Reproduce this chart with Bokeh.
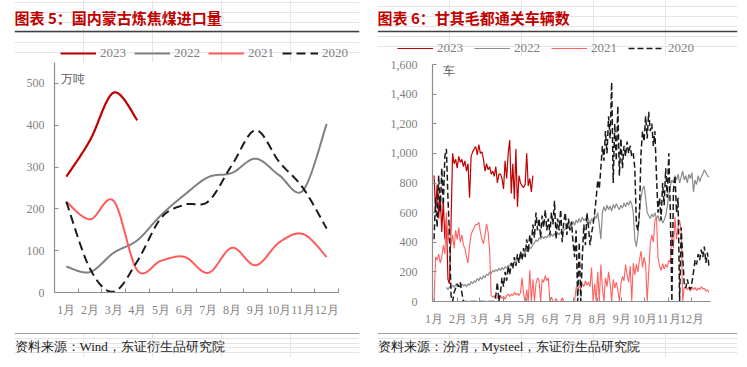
import numpy as np
from bokeh.plotting import figure
from bokeh.models import (Range1d, FixedTicker, SingleIntervalTicker, NumeralTickFormatter,
                          Legend, LegendItem, Label, Span)
from bokeh.layouts import row, column
from bokeh.embed import file_html
from bokeh.resources import INLINE

# ---------------- data: chart 5 (monthly imports, 万吨) ----------------
months = ["1月", "2月", "3月", "4月", "5月", "6月", "7月", "8月", "9月", "10月", "11月", "12月"]
import_2023 = [277, 364, 478, 412]
import_2022 = [62, 49, 95, 125, 185, 234, 276, 286, 320, 280, 244, 403]
import_2021 = [217, 175, 219, 53, 76, 85, 47, 107, 65, 120, 140, 85]
import_2020 = [217, 57, 2, 75, 178, 210, 218, 305, 388, 312, 250, 153]

# ---------------- data: chart 6 (daily trucks, every 2nd day) ----------------
month_start_day = [0, 31, 59, 90, 120, 151, 181, 212, 243, 273, 304, 334]
day_step = 2
start_2023 = 0
cars_2023 = [850, 620, 790, 560, 720, 470, 680, 420, 560, 150, 120, 520, 1000, 930, 960, 900,
             980, 940, 960, 910, 950, 880, 930, 700, 980, 1010, 1030, 1045, 990, 1060, 1000,
             1010, 960, 880, 930, 890, 910, 860, 880, 845, 910, 800, 860, 860, 830, 760, 950,
             830, 1000, 1090, 730, 930, 690, 1030, 640, 850, 800, 780, 770, 790, 1000, 780,
             830, 740, 850]
start_2022 = 16
cars_2022 = [95, 80, 100, 90, 110, 95, 115, 100, 110, 95, 120, 105, 115, 100, 120, 110, 135,
             120, 140, 130, 155, 140, 165, 150, 175, 160, 185, 175, 200, 185, 210, 200, 215,
             205, 225, 210, 230, 215, 235, 225, 245, 240, 260, 250, 270, 260, 280, 275, 300,
             290, 320, 330, 345, 340, 365, 360, 385, 395, 415, 405, 430, 420, 440, 425, 440,
             430, 450, 435, 455, 440, 460, 445, 465, 450, 470, 460, 480, 490, 510, 495, 520,
             500, 540, 515, 550, 530, 560, 535, 570, 545, 560, 530, 555, 520, 560, 540, 580,
             560, 600, 520, 420, 600, 640, 610, 650, 620, 645, 610, 655, 630, 660, 640, 620,
             650, 630, 665, 640, 670, 650, 680, 660, 600, 420, 370, 450, 600, 700, 760, 780,
             700, 600, 580, 560, 590, 570, 600, 560, 580, 540, 570, 530, 550, 580, 640, 720,
             780, 820, 800, 850, 820, 860, 800, 840, 880, 820, 850, 800, 860, 830, 870, 740,
             820, 790, 850, 810, 840, 860, 890, 870, 850, 840]
start_2021 = 0
cars_2021 = [0, 300, 280, 320, 260, 300, 380, 320, 600, 400, 520, 380, 450, 360, 480, 420,
             500, 400, 450, 380, 360, 300, 260, 380, 450, 480, 500, 520, 520, 535, 470, 420,
             390, 450, 525, 470, 340, 40, 30, 40, 20, 30, 25, 40, 20, 35, 15, 40, 50, 35, 50,
             40, 60, 45, 55, 40, 60, 160, 50, 0, 80, 0, 210, 0, 150, 0, 120, 160, 140, 0, 150,
             130, 175, 140, 160, 0, 30, 0, 0, 20, 0, 0, 0, 25, 0, 0, 0, 0, 0, 0, 0, 0, 95, 80,
             100, 90, 120, 100, 140, 110, 130, 100, 230, 0, 120, 0, 200, 0, 250, 90, 0, 160,
             100, 200, 120, 0, 150, 90, 130, 80, 0, 120, 170, 140, 250, 180, 130, 240, 0, 260,
             180, 250, 200, 280, 340, 230, 300, 250, 0, 200, 390, 450, 400, 545, 570, 300, 240,
             210, 255, 220, 250, 230, 280, 260, 450, 360, 570, 420, 500, 550, 480, 0, 95, 100,
             80, 90, 70, 100, 80, 95, 75, 90, 80, 100, 85, 90, 70, 80, 60]
start_2020 = 0
cars_2020 = [420, 700, 500, 850, 600, 900, 650, 980, 1030, 700, 450, 40, 0, 60, 90, 120, 100,
             130, 60, 0, 0, 0, 0, 0, 0, 0, 0, 0, 0, 0, 0, 0, 0, 0, 0, 0, 0, 0, 0, 0, 40, 130,
             0, 60, 160, 100, 200, 140, 240, 180, 260, 220, 300, 240, 320, 260, 340, 280, 360,
             300, 420, 330, 450, 380, 520, 430, 600, 480, 560, 430, 580, 500, 620, 480, 560,
             450, 600, 520, 680, 420, 560, 480, 620, 400, 540, 600, 450, 560, 480, 540, 400,
             300, 480, 0, 400, 0, 300, 520, 380, 600, 500, 380, 460, 520, 600, 700, 820, 760,
             900, 1050, 950, 1150, 1000, 1250, 1100, 1480, 800, 1200, 950, 1320, 850, 1100,
             900, 1050, 980, 1080, 1000, 1050, 980, 1000, 900, 520, 480, 600, 1000, 1150, 1080,
             1250, 1100, 1280, 1150, 1200, 1050, 1150, 850, 600, 700, 550, 800, 650, 900, 700,
             1000, 600, 0, 750, 850, 600, 700, 0, 500, 300, 120, 90, 150, 100, 80, 130, 200,
             280, 250, 320, 280, 350, 300, 370, 260, 330, 240]

SERIES = ["2023", "2022", "2021", "2020"]
FONT = "Liberation Serif"
AXIS_GRAY = "#8C8C8C"
LABEL_GRAY = "#7F7F7F"
TITLE_RED = "#C00000"

left_styles = {
    "2023": dict(line_color="#C00000", line_width=2.2),
    "2022": dict(line_color="#808080", line_width=2.0),
    "2021": dict(line_color="#FF5B5B", line_width=2.0),
    "2020": dict(line_color="#1A1A1A", line_width=2.0, line_dash="9 5"),
}
right_styles = {
    "2023": dict(line_color="#C00000", line_width=1.2),
    "2022": dict(line_color="#8C8C8C", line_width=1.2),
    "2021": dict(line_color="#FF6161", line_width=1.1),
    "2020": dict(line_color="#1A1A1A", line_width=1.5, line_dash="6 3"),
}


def smooth_path(xs, ys, steps=24):
    """Excel-style smoothed line: cubic Bezier through every data point."""
    xs = np.asarray(xs, float)
    ys = np.asarray(ys, float)
    n = len(xs)
    out_x, out_y = [xs[0]], [ys[0]]
    tt = np.linspace(0, 1, steps)[1:]
    for i in range(n - 1):
        i0, i3 = max(i - 1, 0), min(i + 2, n - 1)
        p0 = np.array([xs[i0], ys[i0]])
        p1 = np.array([xs[i], ys[i]])
        p2 = np.array([xs[i + 1], ys[i + 1]])
        p3 = np.array([xs[i3], ys[i3]])
        c1 = p1 + (p2 - p0) / 6.0
        c2 = p2 - (p3 - p1) / 6.0
        a = ((1 - tt) ** 3)[:, None]
        b = (3 * (1 - tt) ** 2 * tt)[:, None]
        c = (3 * (1 - tt) * tt ** 2)[:, None]
        d = (tt ** 3)[:, None]
        pts = a * p1 + b * c1 + c * c2 + d * p2
        out_x.extend(pts[:, 0])
        out_y.extend(pts[:, 1])
    return out_x, out_y


def header(text, width, height, left, right, rule_y, title_y, styles, legend_loc, spacing):
    """Title, rule and legend strip above a chart (y units are pixels from the bottom)."""
    h = figure(width=width, height=height, x_range=Range1d(0, 1), y_range=Range1d(0, height),
               x_axis_location=None, y_axis_location=None, toolbar_location=None,
               output_backend="svg", min_border_left=left, min_border_right=right,
               min_border_top=0, min_border_bottom=0, outline_line_color=None, title=None)
    h.add_layout(Span(location=rule_y, dimension="width", line_color="#404040", line_width=1.5))
    h.add_layout(Label(x=0, y=title_y, x_units="screen", y_units="screen", text=text,
                       text_font="Noto Sans CJK SC", text_font_size="15px",
                       text_font_style="bold", text_color=TITLE_RED, text_baseline="middle"))
    items = []
    nan = float("nan")
    for s in SERIES:
        # legend key only: a line renderer with no visible points
        r = h.line([nan, nan], [nan, nan], **styles[s])
        items.append(LegendItem(label=s, renderers=[r]))
    h.add_layout(Legend(items=items, orientation="horizontal", location=legend_loc,
                        glyph_width=36, glyph_height=14, label_height=14, label_standoff=4,
                        spacing=spacing, padding=0, margin=0, border_line_color=None,
                        background_fill_alpha=0, label_text_font=FONT,
                        label_text_font_size="13px", label_text_color=LABEL_GRAY))
    return h


def footer(text, width, left, right):
    f = figure(width=width, height=27, x_range=Range1d(0, 1), y_range=Range1d(0, 1),
               x_axis_location=None, y_axis_location=None, toolbar_location=None,
               output_backend="svg", min_border_left=left, min_border_right=right,
               min_border_top=3, min_border_bottom=0, outline_line_color=None, title=None)
    f.add_layout(Span(location=1, dimension="width", line_color="#404040", line_width=1.2))
    f.add_layout(Label(x=0, y=11, x_units="screen", y_units="screen", text=text,
                       text_font=FONT, text_font_size="13px", text_color="#1A1A1A",
                       text_baseline="middle"))
    return f


def style_axes(p, y_standoff):
    for ax in (p.xaxis[0], p.yaxis[0]):
        ax.axis_line_color = AXIS_GRAY
        ax.axis_line_width = 1.2
        ax.major_tick_line_color = AXIS_GRAY
        ax.minor_tick_line_color = AXIS_GRAY
        ax.major_label_text_font = FONT
        ax.major_label_text_font_size = "12px"
        ax.major_label_text_color = LABEL_GRAY
        ax.major_tick_out = 0
        ax.minor_tick_out = 0
        ax.minor_tick_in = 0
    p.yaxis.major_tick_in = 4
    p.yaxis.major_label_standoff = y_standoff
    p.xaxis.major_label_standoff = 10
    p.grid.visible = False


# ---------------- chart 5 ----------------
p1 = figure(width=368, height=268, x_range=Range1d(0.5, 12.5), y_range=Range1d(0, 550),
            toolbar_location=None, output_backend="svg", min_border_left=54,
            min_border_right=30, min_border_top=0, min_border_bottom=38,
            outline_line_color=None, title=None)
style_axes(p1, 10)
month_pos = list(range(1, 13))
p1.xaxis.ticker = FixedTicker(ticks=month_pos, minor_ticks=[m - 0.5 for m in month_pos] + [12.5])
p1.xaxis.major_label_overrides = {m: lab for m, lab in zip(month_pos, months)}
p1.xaxis.major_tick_in = 0
p1.xaxis.minor_tick_in = 4
p1.yaxis.ticker = SingleIntervalTicker(interval=100)

left_data = {"2023": import_2023, "2022": import_2022, "2021": import_2021, "2020": import_2020}
for s in SERIES:
    vals = left_data[s]
    sx, sy = smooth_path(month_pos[:len(vals)], vals)
    p1.line(sx, sy, **left_styles[s])
p1.add_layout(Label(x=6, y=214, x_units="screen", y_units="screen", text="万吨",
                    text_font=FONT, text_font_size="12px", text_color="#595959",
                    text_baseline="middle"))

# ---------------- chart 6 ----------------
p2 = figure(width=370, height=274, x_range=Range1d(-2, 358), y_range=Range1d(0, 1600),
            toolbar_location=None, output_backend="svg", min_border_left=64,
            min_border_right=28, min_border_top=8, min_border_bottom=29,
            outline_line_color=None, title=None)
style_axes(p2, 15)
p2.xaxis.ticker = FixedTicker(ticks=month_start_day)
p2.xaxis.major_label_overrides = {d: lab for d, lab in zip(month_start_day, months)}
p2.xaxis.major_tick_in = 4
p2.yaxis.ticker = SingleIntervalTicker(interval=200)
p2.yaxis.formatter = NumeralTickFormatter(format="0,0")

right_data = {"2023": (start_2023, cars_2023), "2022": (start_2022, cars_2022),
              "2021": (start_2021, cars_2021), "2020": (start_2020, cars_2020)}
for s in SERIES:
    start, vals = right_data[s]
    days = [start + day_step * i for i in range(len(vals))]
    p2.line(days, vals, **right_styles[s])
p2.add_layout(Label(x=10, y=231, x_units="screen", y_units="screen", text="车",
                    text_font=FONT, text_font_size="12px", text_color="#595959",
                    text_baseline="middle"))

h1 = header("图表 5：国内蒙古炼焦煤进口量", 368, 62, 14, 9, 31, 45, left_styles, (46, 1), 8)
h2 = header("图表 6：甘其毛都通关车辆数", 370, 56, 9, 1, 25, 39, right_styles, (20, 0), 11)
f1 = footer("资料来源：Wind，东证衍生品研究院", 368, 14, 9)
f2 = footer("资料来源：汾渭，Mysteel，东证衍生品研究院", 370, 9, 1)

layout = row(column(row(h1), p1, row(f1)), column(row(h2), p2, row(f2)))
open("out.html", "w").write(file_html(layout, INLINE))
